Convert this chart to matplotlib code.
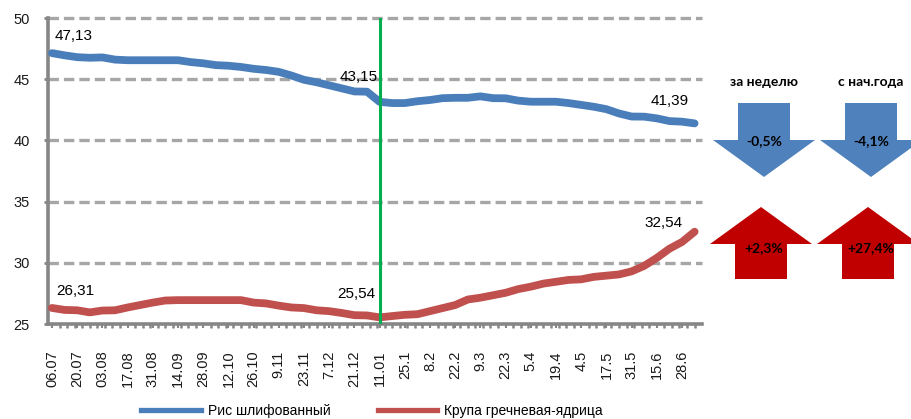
import numpy as np
import matplotlib
matplotlib.use("Agg")
import matplotlib.pyplot as plt
from matplotlib.patches import Polygon
from matplotlib.ticker import MultipleLocator
from matplotlib.lines import Line2D

plt.rcParams['lines.scale_dashes'] = False
plt.rcParams['font.family'] = ['Liberation Sans', 'DejaVu Sans']

# ---- data ----
tick_labels = ['06.07', '20.07', '03.08', '17.08', '31.08', '14.09', '28.09', '12.10',
               '26.10', '9.11', '23.11', '7.12', '21.12', '11.01', '25.1', '8.2', '22.2',
               '9.3', '22.3', '5.4', '19.4', '4.5', '17.5', '31.5', '15.6', '28.6']

rice = [47.13, 46.95, 46.80, 46.75, 46.78, 46.60, 46.55, 46.55, 46.55, 46.55,
        46.55, 46.40, 46.30, 46.15, 46.10, 46.00, 45.85, 45.75, 45.60, 45.30,
        44.95, 44.75, 44.50, 44.25, 44.00, 43.98, 43.15, 43.05, 43.05, 43.20,
        43.30, 43.45, 43.48, 43.48, 43.60, 43.45, 43.44, 43.25, 43.16, 43.16,
        43.16, 43.05, 42.90, 42.75, 42.55, 42.20, 41.95, 41.94, 41.80, 41.58,
        41.53, 41.39]

buckwheat = [26.31, 26.15, 26.12, 25.95, 26.10, 26.12, 26.35, 26.55, 26.75, 26.92,
             26.95, 26.95, 26.95, 26.95, 26.95, 26.95, 26.75, 26.68, 26.50, 26.35,
             26.30, 26.12, 26.05, 25.90, 25.72, 25.70, 25.54, 25.65, 25.75, 25.80,
             26.05, 26.30, 26.55, 27.00, 27.15, 27.35, 27.55, 27.85, 28.05, 28.30,
             28.45, 28.60, 28.65, 28.85, 28.95, 29.05, 29.30, 29.75, 30.40, 31.15,
             31.70, 32.54]

series_names = ['Рис шлифованный', 'Крупа гречневая-ядрица']
year_start_index = 26  # 11.01

# labelled points: (series, index)
labelled = [(0, 0), (0, 26), (0, 51), (1, 0), (1, 26), (1, 51)]

headers = ['за неделю', 'с нач.года']
week_change = ['-0,5%', '+2,3%']
ytd_change = ['-4,1%', '+27,4%']

# ---- figure ----
W, H = 912, 419
fig = plt.figure(figsize=(W / 100, H / 100), dpi=100)

def fx(px):
    return px / W

def fy(py):
    return 1 - py / H

ax_left, ax_right, ax_top, ax_bottom = 48, 702, 18, 324
ax = fig.add_axes([fx(ax_left), fy(ax_bottom), fx(ax_right - ax_left), (ax_bottom - ax_top) / H])

x = np.arange(len(rice))
blue = '#4A7EBB'
red = '#C0504D'
ax.plot(x, rice, color=blue, lw=5.6, solid_capstyle='round', solid_joinstyle='round', zorder=4)
ax.plot(x, buckwheat, color=red, lw=5.6, solid_capstyle='round', solid_joinstyle='round', zorder=4)

ax.set_ylim(25, 50)
ax.set_xlim(-(52 - ax_left) / 12.6, (ax_right - 52) / 12.6)

# gridlines
for v in [30, 35, 40, 45, 50]:
    ax.axhline(v, color='#A6A6A6', lw=2.4, dashes=(7.5, 3.6), zorder=1, clip_on=False)

# vertical green line
ax.axvline(year_start_index, color='#00B050', lw=2.2, zorder=5)

# spines
for s in ['top', 'right']:
    ax.spines[s].set_visible(False)
for s in ['left', 'bottom']:
    ax.spines[s].set_color('#868686')
    ax.spines[s].set_linewidth(2.6)
    ax.spines[s].set_zorder(3)

ax.set_yticks([25, 30, 35, 40, 45, 50])
ax.set_yticklabels(['25', '30', '35', '40', '45', '50'])
ax.tick_params(axis='y', direction='out', length=3, width=2, color='#868686',
               labelsize=10.5, labelcolor='#1a1a1a', pad=10)

ax.set_xticks(np.arange(0, len(rice), 2)[:len(tick_labels)])
ax.set_xticklabels(tick_labels, rotation=90)
ax.tick_params(axis='x', which='major', direction='out', length=3, width=1.5,
               color='#868686', labelsize=10.5, labelcolor='#1a1a1a', pad=16)
ax.xaxis.set_minor_locator(MultipleLocator(0.6))
ax.tick_params(axis='x', which='minor', direction='out', length=3, width=1.8, color='#868686')

# data labels
series = [rice, buckwheat]
offsets = {
    (0, 0): (2, 7, 'left'),
    (1, 0): (3, 7, 'left'),
    (0, 26): (-1, 13, 'right'),
    (1, 26): (-3, 12, 'right'),
    (0, 51): (-4, 11, 'right'),
    (1, 51): (-9, 1, 'right'),
}
for si, idx in labelled:
    v = series[si][idx]
    dx, dy, ha = offsets[(si, idx)]
    ax.annotate(f'{v:.2f}'.replace('.', ','), (idx, v), xytext=(dx, dy),
                textcoords='offset points', ha=ha, va='bottom', fontsize=11,
                color='#000000', zorder=6)

# legend
handles = [Line2D([], [], color=blue, lw=3.8), Line2D([], [], color=red, lw=3.8)]
fig.legend(handles, series_names, loc='center', bbox_to_anchor=(fx(372), fy(411)),
           ncol=2, frameon=False, fontsize=10, handlelength=4.3, columnspacing=3.4,
           handletextpad=0.5)

# arrows
def arrow(cx, top, bottom, up, color):
    sw, hw, hl = 26, 51, 37
    if up:
        pts = [(cx, top), (cx + hw, top + hl), (cx + sw, top + hl), (cx + sw, bottom),
               (cx - sw, bottom), (cx - sw, top + hl), (cx - hw, top + hl)]
    else:
        pts = [(cx, bottom), (cx + hw, bottom - hl), (cx + sw, bottom - hl), (cx + sw, top),
               (cx - sw, top), (cx - sw, bottom - hl), (cx - hw, bottom - hl)]
    poly = Polygon([(fx(a), fy(b)) for a, b in pts], closed=True, transform=fig.transFigure,
                   facecolor=color, edgecolor='none')
    fig.patches.append(poly)

cols_x = [764, 871]
changes = [week_change, ytd_change]
hfont = dict(family=['Lato', 'DejaVu Sans'], fontweight='bold')
for cx, head, ch in zip(cols_x, headers, changes):
    fig.text(fx(cx), fy(82), head, ha='center', va='center', fontsize=10, color='#000000', **hfont)
    for k, c in enumerate(ch):
        up = c.startswith('+')
        if k == 0:
            top, bottom = 103, 177
        else:
            top, bottom = 207, 279
        color = '#C00000' if up else '#4F81BD'
        arrow(cx - (3 if up else 0), top, bottom, up, color)
        ty = 248 if up else 141
        fig.text(fx(cx), fy(ty), c, ha='center', va='center', fontsize=10,
                 color='#000000', **hfont)

fig.savefig('out.png', dpi=100)
